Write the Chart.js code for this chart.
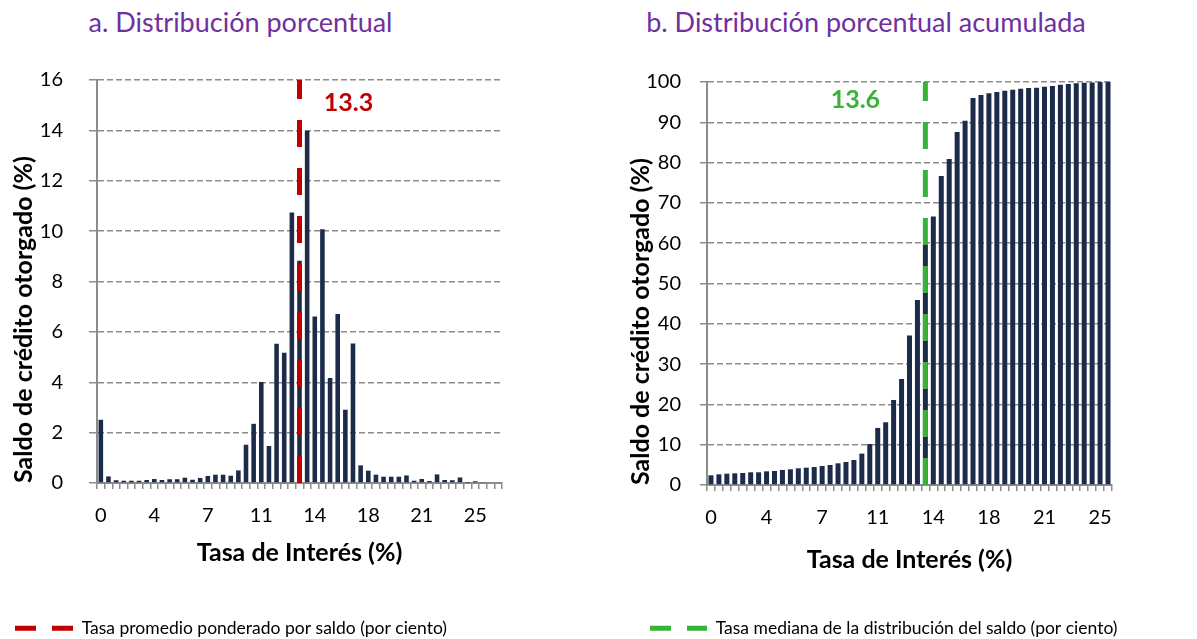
<!DOCTYPE html>
<html lang="es">
<head>
<meta charset="utf-8">
<script src="https://cdn.jsdelivr.net/npm/chart.js@4.4.1/dist/chart.umd.min.js"></script>
<style>
  html, body { margin:0; padding:0; background:#fff; overflow:hidden; }
  #wrap { position:relative; width:1197px; height:639px; overflow:hidden; }
  .ptitle { position:absolute; top:6px; font-family:Lato, sans-serif; font-size:27px; color:#7030A0; text-align:center; white-space:nowrap; line-height:32px; }
  canvas { position:absolute; top:0; }
</style>
</head>
<body>
<div id="wrap">
  <div class="ptitle" style="left:0;width:481px;">a. Distribución porcentual</div>
  <div class="ptitle" style="left:615px;width:502px;">b. Distribución porcentual acumulada</div>
  <div style="position:absolute;left:0;top:0;width:626px;height:647px;"><canvas id="c1"></canvas></div>
  <div style="position:absolute;left:626px;top:0;width:571px;height:647px;"><canvas id="c2"></canvas></div>
</div>
<script>
// ---- Data ----
const leftCategories = ['0','0.5','1','1.5','2','2.5','3','3.5','4','4.5','5','5.5','6','6.5','7','7.5','8','8.5','9','9.5','10','10.5','11','11.5','12','12.5','13','13.5','14','14.5','15','15.5','16','16.5','17','17.5','18','18.5','19','19.5','20','20.5','21','21.5','22','22.5','23','23.5','24','24.5','25','25.5','26'];
const leftValues = [2.51,0.26,0.11,0.09,0.09,0.09,0.12,0.16,0.12,0.15,0.15,0.21,0.13,0.20,0.28,0.33,0.33,0.29,0.50,1.52,2.35,4.01,1.47,5.53,5.17,10.74,8.82,13.99,6.61,10.07,4.17,6.71,2.91,5.54,0.70,0.49,0.33,0.25,0.25,0.25,0.30,0.09,0.16,0.08,0.34,0.12,0.11,0.22,0.01,0.07,0.02,0,0];

const rightCategories = ['0','0.5','1','1.5','2','2.5','3','3.5','4','4.5','5','5.5','6','6.5','7','7.5','8','8.5','9','9.5','10','10.5','11','11.5','12','12.5','13','13.5','14','14.5','15','15.5','16','16.5','17','17.5','18','18.5','19','19.5','20','20.5','21','21.5','22','22.5','23','23.5','24','24.5','25'];
const rightValues = [2.40,2.65,2.81,2.90,2.98,3.15,3.15,3.39,3.48,3.73,3.89,4.14,4.30,4.47,4.72,4.97,5.38,5.71,6.21,7.78,10.18,14.16,15.56,21.1,26.3,37.1,45.9,59.8,66.6,76.7,80.9,87.6,90.4,96.0,96.8,97.2,97.5,97.8,98.1,98.3,98.5,98.6,98.8,99.0,99.3,99.5,99.7,99.8,99.9,100,100];

const xTickLabels = ['0','4','7','11','14','18','21','25'];
const tickEvery = 7;

const avgRate = 13.3;     // tasa promedio ponderado por saldo
const medianRate = 13.6;  // tasa mediana
const leftYMax = 16, leftYStep = 2;
const rightYMax = 100, rightYStep = 10;

// ---- Styles ----
Chart.defaults.font.family = 'Lato, sans-serif';
Chart.defaults.color = '#000';
const GRID = '#8c8c8c';
const BAR = '#1c2b4a';
const RED = '#c00000';
const GREEN = '#38b338';

const catOf = r => String(Math.floor(r * 2) / 2);

const refLabelPlugin = {
  id: 'refLabel',
  afterDatasetsDraw(chart, args, opts) {
    const {ctx, scales: {x, y}} = chart;
    const idx = x.getLabels().indexOf(opts.category);
    const px = x.getPixelForValue(idx) + opts.dx;
    const py = y.getPixelForValue(opts.yValue);
    ctx.save();
    ctx.font = 'bold 25px Lato, sans-serif';
    ctx.fillStyle = opts.color;
    ctx.textAlign = 'center';
    ctx.textBaseline = 'middle';
    ctx.fillText(opts.text, px, py);
    ctx.restore();
  }
};

function makeChart(id, cfg) {
  const lineCat = catOf(cfg.rate);
  return new Chart(document.getElementById(id), {
    data: {
      labels: cfg.categories,
      datasets: [
        {
          type: 'line',
          label: cfg.legendText,
          data: [{x: lineCat, y: 0}, {x: lineCat, y: cfg.yMax}],
          borderColor: cfg.lineColor,
          backgroundColor: cfg.lineColor,
          borderWidth: 5,
          borderDash: [27, 21],
          pointRadius: 0,
          pointStyle: 'line',
          order: 0
        },
        {
          type: 'bar',
          label: 'Saldo',
          data: cfg.values,
          backgroundColor: BAR,
          borderWidth: 0,
          barPercentage: cfg.barPct,
          categoryPercentage: 1.0,
          order: 1
        }
      ]
    },
    options: {
      responsive: true,
      maintainAspectRatio: false,
      animation: false,
      events: [],
      layout: { padding: { top: cfg.padTop, right: 0, left: 0, bottom: 0 } },
      plugins: {
        tooltip: { enabled: false },
        title: { display: false },
        legend: {
          display: true,
          position: 'bottom',
          align: 'start',
          labels: {
            usePointStyle: true,
            pointStyleWidth: cfg.legendBoxW,
            boxHeight: 16,
            padding: cfg.legendPad,
            color: '#000',
            font: { size: 17.5 },
            generateLabels: chart => Chart.defaults.plugins.legend.labels.generateLabels(chart)
              .filter(l => l.datasetIndex === 0)
              .map(l => Object.assign(l, { lineDash: [21, 16], lineWidth: 5, pointStyle: 'line', strokeStyle: cfg.lineColor }))
          }
        },
        refLabel: {
          category: lineCat,
          text: cfg.rate.toFixed(1),
          color: cfg.lineColor,
          dx: cfg.labelDx,
          yValue: cfg.labelY
        }
      },
      scales: {
        x: {
          type: 'category',
          offset: true,
          grid: { display: true, drawOnChartArea: false, drawTicks: true, tickLength: 6, color: GRID, lineWidth: 1.5, offset: true },
          border: { display: true, color: GRID, width: 2 },
          ticks: {
            autoSkip: false, maxRotation: 0, minRotation: 0, padding: 15,
            font: { size: 20 }, color: '#000',
            callback: (v, i) => (i % tickEvery === 0 ? xTickLabels[i / tickEvery] : '')
          },
          title: { display: true, text: 'Tasa de Interés (%)', color: '#000', font: { size: 25, weight: 'bold' }, padding: { top: 0, bottom: cfg.xTitlePad } },
          afterFit: s => { s.height = cfg.xHeight; }
        },
        y: {
          type: 'linear',
          position: 'left',
          min: 0, max: cfg.yMax,
          ticks: { stepSize: cfg.yStep, padding: cfg.yTickPad, font: { size: 20 }, color: '#000' },
          grid: { color: GRID, lineWidth: 1.5, tickLength: cfg.yTickLen, drawTicks: true },
          border: { display: true, color: GRID, width: 2, dash: [6, 3] },
          title: { display: true, text: 'Saldo de crédito otorgado (%)', align: 'start', color: '#000', font: { size: 25, weight: 'bold' }, padding: { top: cfg.yTitlePad, bottom: 0 } },
          afterFit: s => { s.width = cfg.yWidth; }
        },
        yPad: {
          type: 'linear',
          position: 'right',
          display: true,
          min: 0, max: cfg.yMax,
          grid: { display: false, drawTicks: false },
          border: { display: false },
          ticks: { display: false },
          afterFit: s => { s.width = cfg.rightGap; }
        }
      }
    },
    plugins: [refLabelPlugin]
  });
}

makeChart('c1', {
  categories: leftCategories, values: leftValues, rate: avgRate,
  yMax: leftYMax, yStep: leftYStep, lineColor: RED,
  legendText: 'Tasa promedio ponderado por saldo (por ciento)',
  legendBoxW: 58, legendPad: 15,
  barPct: 0.6,
  padTop: 80, rightGap: 124,
  xHeight: 121.5, xTitlePad: 36.5,
  yWidth: 97, yTickPad: 26, yTickLen: 8, yTitlePad: 9,
  labelDx: 49, labelY: 15.09
});

makeChart('c2', {
  categories: rightCategories, values: rightValues, rate: medianRate,
  yMax: rightYMax, yStep: rightYStep, lineColor: GREEN,
  legendText: 'Tasa mediana de la distribución del saldo (por ciento)',
  legendBoxW: 57, legendPad: 24,
  barPct: 0.63,
  padTop: 82, rightGap: 85,
  xHeight: 110.5, xTitlePad: 20.5,
  yWidth: 81, yTickPad: 19, yTickLen: 7, yTitlePad: 0,
  labelDx: -70, labelY: 95.6
});
</script>
</body>
</html>
